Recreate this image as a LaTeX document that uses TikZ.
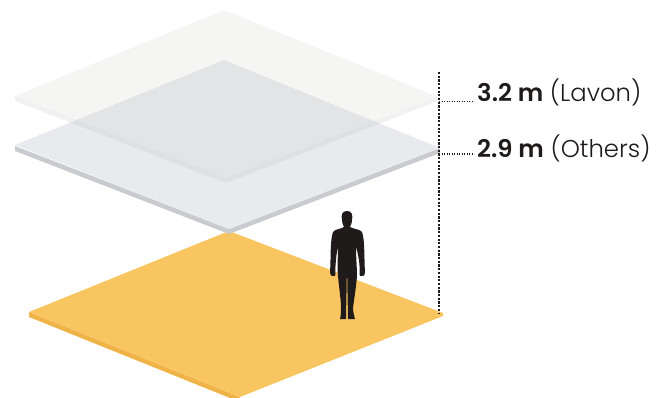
\documentclass[tikz,border=0pt]{standalone}
\usepackage{fontspec}
\setmainfont{Poppins}[UprightFont=* Light,BoldFont=* SemiBold]
\definecolor{orangetop}{HTML}{F9C561}
\definecolor{orangeside}{HTML}{F0B348}
\definecolor{grayside}{HTML}{C9CBCE}
\definecolor{graytop}{HTML}{E8EAED}
\definecolor{paletop}{HTML}{D6D6D4}
\definecolor{paleside}{HTML}{BDBDBD}
\definecolor{ink}{HTML}{1F1B1A}
\tikzset{
  x=1pt,y=-1pt,
  levellabel/.style={anchor=base west,inner sep=0pt,font=\fontsize{24.3}{26}\selectfont,text=ink},
  dimline/.style={draw=ink,line width=2.8pt,dash pattern=on 2.2pt off 1.5pt},
  tickline/.style={draw=ink,line width=1.5pt,dash pattern=on 1.4pt off 1.1pt},
}
\begin{document}
\begin{tikzpicture}
\useasboundingbox (0,0) rectangle (668,397);
\clip (0,0) rectangle (668,397);
% floor
\fill[orangeside] (29,312) -- (240,397) -- (240,402) -- (29,317) -- cycle;
\fill[orangetop] (29,312) -- (229,231) -- (443,313) -- (443,316) -- (240,397) -- cycle;
% lower plate
\fill[grayside] (15,146) -- (229,229) -- (440,148) -- (440,153) -- (229,234) -- (15,151) -- cycle;
\fill[graytop] (15,145) -- (224,60) -- (440,148) -- (229,229) -- cycle;
% upper plate
\fill[paleside,opacity=.22] (15,96) -- (226,178) -- (438,97) -- (438,101) -- (226,183) -- (15,101) -- cycle;
\fill[paletop,opacity=.25] (15,96) -- (224,10) -- (438,97) -- (226,178) -- cycle;
% person
\fill[ink] (347,211) .. controls (342,211) and (341,215) .. (342,220)
  .. controls (342,224) and (344,226) .. (344,227)
  .. controls (341,229) and (335,229) .. (333,232)
  .. controls (330,240) and (331,258) .. (330,272)
  .. controls (330,276) and (333,277) .. (335,276)
  .. controls (336,274) and (335,270) .. (335.5,266)
  .. controls (336,258) and (337,250) .. (338,246)
  .. controls (338,258) and (337,268) .. (338,276)
  .. controls (339,288) and (341,300) .. (341,308)
  .. controls (341,312) and (341,315) .. (340,319)
  -- (346,319) .. controls (346,312) and (346.5,300) .. (346.7,278)
  -- (347.3,278) .. controls (347.5,300) and (348,312) .. (348,319)
  -- (355,319) .. controls (354,315) and (353,312) .. (353,308)
  .. controls (354,300) and (356,288) .. (357,276)
  .. controls (357,268) and (356,258) .. (356,246)
  .. controls (357,250) and (359,258) .. (359.5,266)
  .. controls (360,270) and (359,274) .. (360,276)
  .. controls (362,277) and (365,276) .. (365,272)
  .. controls (364,258) and (365,240) .. (362,232)
  .. controls (360,229) and (353,229) .. (350,227)
  .. controls (350,226) and (352,224) .. (352,220)
  .. controls (353,215) and (352,211) .. (347,211) -- cycle;
% dimensions
\coordinate (dimtop) at (439,72);
\coordinate (dimfoot) at (439,313);
\coordinate (tickA) at (439,101.5);
\coordinate (tickB) at (439,154);
\coordinate (tickAend) at (474,101.5);
\coordinate (tickBend) at (474,154);
\draw[dimline] (dimtop) -- (dimfoot);
\node[levellabel] (labA) at (477,101) {\textbf{3.2 m} (Lavon)};
\node[levellabel] (labB) at (477,157) {\textbf{2.9 m} (Others)};
\draw[tickline] (tickA) -- (tickAend);
\draw[tickline] (tickB) -- (tickBend);
\end{tikzpicture}
\end{document}
